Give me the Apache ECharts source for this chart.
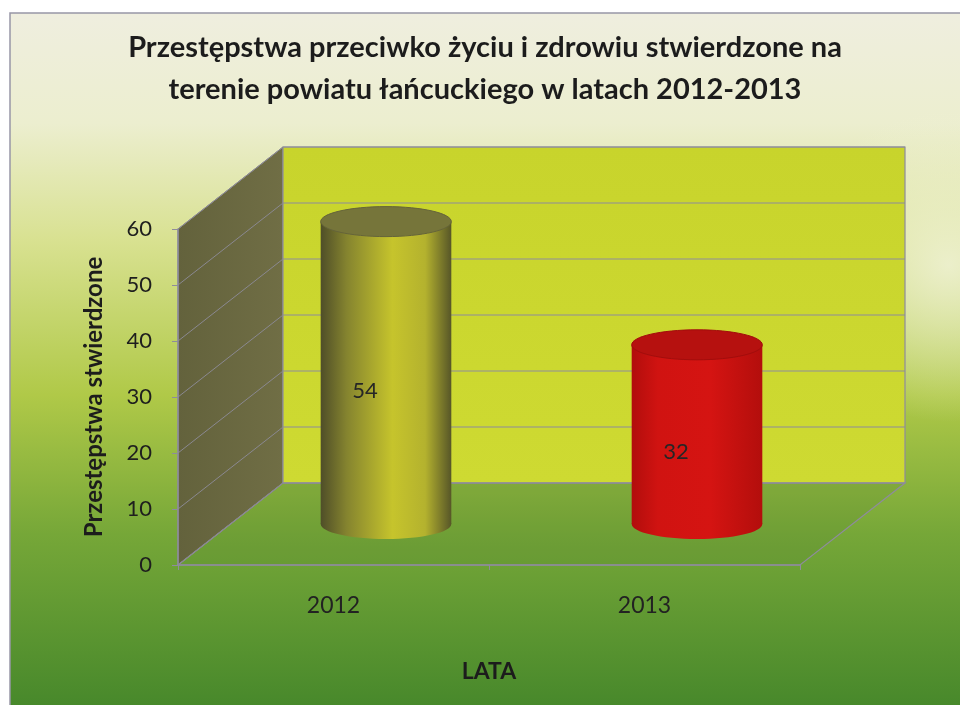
<!DOCTYPE html>
<html>
<head>
<meta charset="utf-8">
<script src="https://cdn.jsdelivr.net/npm/echarts@6/dist/echarts.min.js"></script>
<style>html,body{margin:0;padding:0;background:#fff}#c{width:960px;height:705px}</style>
</head>
<body>
<div id="c"></div>
<script>
// ---- data ----
const titleLines = ['Przestępstwa przeciwko życiu i zdrowiu stwierdzone na', 'terenie powiatu łańcuckiego w latach 2012-2013'];
const categories = ['2012', '2013'];
const values = [54, 32];
const yTicks = [0, 10, 20, 30, 40, 50, 60];
const yAxisName = 'Przestępstwa stwierdzone';
const xAxisName = 'LATA';

// ---- styling ----
const FONT = 'Lato, "Open Sans", sans-serif';
const DX = 105, DY = 82;           // 3D depth offset (front -> back)
const GRID_LINE = '#8e8c9c';
const cylColors = [
  { body: [['0', '#4f4e28'], ['0.2', '#85842f'], ['0.55', '#c6c42c'], ['0.8', '#b4b22e'], ['1', '#575628']], top: '#76753a', topEdge: '#65643a' },
  { body: [['0', '#b10d0c'], ['0.2', '#d01311'], ['0.6', '#d51412'], ['1', '#b30e0c']], top: '#b6110f', topEdge: '#a20d0c' }
];

const chart = echarts.init(document.getElementById('c'), null, { renderer: 'canvas' });

function wallsRender(params, api) {
  const cs = params.coordSys;
  const x0 = cs.x, w = cs.width;
  const yB = api.coord([0, 0])[1];
  const yT = api.coord([0, yTicks[yTicks.length - 1]])[1];
  const children = [];
  children.push({ type: 'polygon', shape: { points: [[x0, yB], [x0, yT], [x0 + DX, yT - DY], [x0 + DX, yB - DY]] },
    style: { fill: new echarts.graphic.LinearGradient(0, 0, 1, 0, [{ offset: 0, color: '#63623c' }, { offset: 1, color: '#706e45' }]), stroke: GRID_LINE, lineWidth: 1 } });
  children.push({ type: 'rect', shape: { x: x0 + DX, y: yT - DY, width: w, height: yB - yT },
    style: { fill: new echarts.graphic.LinearGradient(0, 0, 0, 1, [{ offset: 0, color: '#c8d42c' }, { offset: 1, color: '#ceda32' }]), stroke: GRID_LINE, lineWidth: 1.2 } });
  children.push({ type: 'polygon', shape: { points: [[x0, yB], [x0 + w, yB], [x0 + w + DX, yB - DY], [x0 + DX, yB - DY]] },
    style: { fill: 'rgba(70,110,40,0.14)', stroke: GRID_LINE, lineWidth: 1.2 } });
  yTicks.forEach(function (v) {
    const y = api.coord([0, v])[1];
    children.push({ type: 'line', shape: { x1: x0 + DX, y1: y - DY, x2: x0 + DX + w, y2: y - DY }, style: { stroke: GRID_LINE, lineWidth: 1.2 } });
    children.push({ type: 'line', shape: { x1: x0, y1: y, x2: x0 + DX, y2: y - DY }, style: { stroke: '#8a8890', lineWidth: 1 } });
  });
  return { type: 'group', children: children };
}

function cylRender(params, api) {
  const idx = api.value(0);
  const val = api.value(1);
  const top = api.coord([idx, val]);
  const bot = api.coord([idx, 0]);
  const band = api.size([1, 0])[0];
  const cx = top[0] + DX / 2;
  const yt = top[1] - DY / 2;
  const yb = bot[1] - DY / 2;
  const rx = band * 0.21;
  const ry = 15;
  const col = cylColors[idx % cylColors.length];
  const grad = new echarts.graphic.LinearGradient(0, 0, 1, 0, col.body.map(function (s) { return { offset: +s[0], color: s[1] }; }));
  const mid = api.coord([idx, val / 2]);
  return {
    type: 'group',
    children: [
      { type: 'ellipse', shape: { cx: cx, cy: yb, rx: rx, ry: ry }, style: { fill: grad } },
      { type: 'rect', shape: { x: cx - rx, y: yt, width: rx * 2, height: yb - yt }, style: { fill: grad } },
      { type: 'ellipse', shape: { cx: cx, cy: yt, rx: rx, ry: ry }, style: { fill: col.top, stroke: col.topEdge, lineWidth: 1 } },
      { type: 'text', x: cx - 21, y: mid[1] - DY / 2 + 18,
        style: { text: String(val), fill: '#262626', font: '22px ' + FONT, align: 'center', verticalAlign: 'middle' } }
    ]
  };
}

const option = {
  backgroundColor: '#ffffff',
  animation: false,
  graphic: [
    { type: 'rect', z: -10, shape: { x: 10, y: 13, width: 952, height: 694 },
      style: { fill: new echarts.graphic.LinearGradient(0, 0, 0, 1, [
        { offset: 0, color: '#efeedf' },
        { offset: 0.16, color: '#eceecf' },
        { offset: 0.33, color: '#d8e190' },
        { offset: 0.55, color: '#b0c948' },
        { offset: 0.75, color: '#76a738' },
        { offset: 1, color: '#47882b' }
      ]), stroke: '#9896a6', lineWidth: 1.5 } },
    { type: 'rect', z: -9, shape: { x: 700, y: 13, width: 262, height: 560 },
      style: { fill: new echarts.graphic.RadialGradient(0.95, 0.45, 0.6, [
        { offset: 0, color: 'rgba(240,242,215,0.85)' },
        { offset: 1, color: 'rgba(240,242,215,0)' }
      ]) } },
    { type: 'text', z: 10, x: 485, y: 48, style: { text: titleLines[0], font: 'bold 29px ' + FONT, fill: '#1c1c1c', align: 'center', verticalAlign: 'middle' } },
    { type: 'text', z: 10, x: 485, y: 90, style: { text: titleLines[1], font: 'bold 29px ' + FONT, fill: '#1c1c1c', align: 'center', verticalAlign: 'middle' } }
  ],
  grid: { left: 178, top: 229, width: 622, height: 336, containLabel: false },
  xAxis: {
    type: 'category', data: categories, z: 10,
    axisLine: { show: true, lineStyle: { color: GRID_LINE, width: 1.5 } },
    axisTick: { show: true, length: 5, alignWithLabel: false, lineStyle: { color: GRID_LINE } },
    axisLabel: { fontSize: 23, color: '#222', margin: 29, fontFamily: FONT },
    name: xAxisName, nameLocation: 'middle', nameGap: 95,
    nameTextStyle: { fontSize: 23, fontWeight: 'bold', color: '#1c1c1c', fontFamily: FONT },
    splitLine: { show: false }
  },
  yAxis: {
    type: 'value', min: 0, max: 60, interval: 10, z: 10,
    axisLine: { show: true, lineStyle: { color: GRID_LINE, width: 1.5 } },
    axisTick: { show: true, length: 6, lineStyle: { color: GRID_LINE } },
    axisLabel: { fontSize: 22, color: '#1e1e1e', margin: 26, fontFamily: FONT },
    name: yAxisName, nameLocation: 'middle', nameRotate: 90, nameGap: 72,
    nameTextStyle: { fontSize: 24, fontWeight: 'bold', color: '#1c1c1c', fontFamily: FONT },
    splitLine: { show: false }
  },
  series: [
    { type: 'custom', z: 1, silent: true, renderItem: wallsRender, data: [[0, 0]] },
    { type: 'custom', z: 3, renderItem: cylRender, data: values.map(function (v, i) { return [i, v]; }) }
  ]
};
chart.setOption(option);
</script>
</body>
</html>
